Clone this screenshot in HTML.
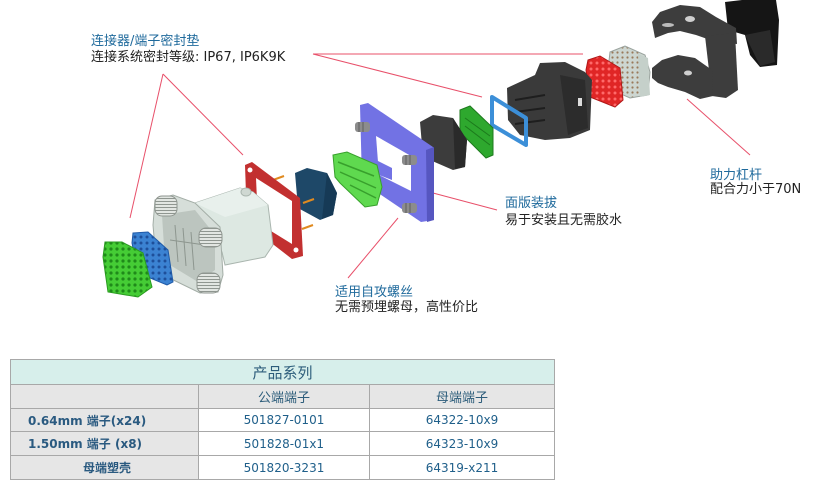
<!DOCTYPE html>
<html><head><meta charset="utf-8">
<style>
html,body{margin:0;padding:0;background:#fff;}
body{width:830px;height:484px;position:relative;overflow:hidden;font-family:"DejaVu Sans","Liberation Sans","Noto Sans CJK SC",sans-serif;}
.lb{position:absolute;font-size:13px;line-height:15px;white-space:nowrap;}
.b{color:#1f6a9c;}
.k{color:#222;}
.c{position:absolute;box-sizing:border-box;border-left:1px solid #a8a8a8;border-top:1px solid #a8a8a8;display:flex;align-items:center;justify-content:center;font-size:12px;color:#1f5f8a;white-space:nowrap;}
.g{background:#e6e6e6;}
.w{background:#fff;}
.bold{font-weight:bold;color:#2a5a80;}
</style></head><body>
<svg width="830" height="484" style="position:absolute;left:0;top:0" xmlns="http://www.w3.org/2000/svg">
<defs>
<pattern id="dotsG" width="6" height="6" patternUnits="userSpaceOnUse"><rect width="6" height="6" fill="#45cc35"/><circle cx="3" cy="3" r="1.6" fill="#1f8a1a"/></pattern>
<pattern id="dotsB" width="6" height="6" patternUnits="userSpaceOnUse"><rect width="6" height="6" fill="#3b82d2"/><circle cx="3" cy="3" r="1.5" fill="#1e4f9a"/></pattern>
<pattern id="dotsR" width="6" height="6" patternUnits="userSpaceOnUse"><rect width="6" height="6" fill="#e02626"/><circle cx="3" cy="3" r="1.5" fill="#ff6a6a"/></pattern>
<pattern id="dotsW" width="5" height="5" patternUnits="userSpaceOnUse"><rect width="5" height="5" fill="#cdd6d1"/><circle cx="2.5" cy="2.5" r="1.1" fill="#9a7a5a"/></pattern>
<pattern id="rib" width="3" height="3" patternUnits="userSpaceOnUse"><rect width="3" height="3" fill="#e2e6e2"/><rect width="3" height="1" fill="#8f9690"/></pattern>
</defs>

<!-- red leader lines -->
<g stroke="#e8506a" stroke-width="1" fill="none">
<line x1="163" y1="74" x2="130" y2="218"/>
<line x1="163" y1="74" x2="243" y2="155"/>
<line x1="313" y1="54" x2="583" y2="54"/>
<line x1="313" y1="54" x2="482" y2="97"/>
<line x1="433" y1="193" x2="497" y2="210"/>
<line x1="398" y1="218" x2="348" y2="278"/>
<line x1="687" y1="99" x2="750" y2="155"/>
</g>

<!-- black handle top right -->
<polygon points="725,2,742,0,776,0,779,20,777,65,760,67,750,55,745,35,728,30" fill="#151515"/>
<polygon points="745,35,770,30,775,62,760,66" fill="#2a2a2a"/>

<!-- lever -->
<g fill="#3d3d3d">
<polygon points="652,22,660,12,680,5,700,7,716,17,736,28,737,44,716,42,696,35,680,31,668,33,655,38"/>
<polygon points="705,36,735,33,738,90,726,98,712,96"/>
<polygon points="652,68,662,60,678,55,695,58,712,70,713,96,700,99,685,92,668,87,658,83,652,78"/>
</g>
<ellipse cx="690" cy="19" rx="5" ry="3" fill="#cfcfcf"/>
<ellipse cx="668" cy="25" rx="6" ry="2" fill="#bbb"/>
<ellipse cx="688" cy="73" rx="4" ry="2.5" fill="#cfcfcf"/>

<!-- light gray block -->
<polygon points="610,52,625,46,645,55,650,72,648,95,630,98,612,90,608,70" fill="url(#dotsW)" stroke="#9aa39e" stroke-width="1"/>
<polygon points="638,54,648,58,650,95,640,97" fill="#c5d0ca"/>

<!-- red block -->
<polygon points="588,60,600,56,620,68,623,100,615,107,590,97,586,70" fill="url(#dotsR)" stroke="#b01818" stroke-width="1"/>

<!-- black big block -->
<polygon points="507,88,535,75,540,63,565,62,585,72,592,80,590,130,570,138,545,140,520,135,508,120" fill="#3a3a3a"/>
<polygon points="560,75,585,80,588,128,568,135" fill="#2c2c2c"/>
<g stroke="#1e1e1e" stroke-width="2"><line x1="515" y1="100" x2="545" y2="95"/><line x1="515" y1="112" x2="545" y2="108"/><line x1="515" y1="124" x2="545" y2="120"/></g>
<rect x="578" y="98" width="4" height="8" fill="#ddd"/>

<!-- blue frame -->
<polygon points="492,97,526,118,526,145,492,125" fill="none" stroke="#3c8fd8" stroke-width="4" stroke-linejoin="round"/>

<!-- green strip -->
<polygon points="460,110,470,106,493,128,493,155,486,158,460,132" fill="#2ea82e" stroke="#1e7a1e" stroke-width="1"/>
<g stroke="#1c7a1c" stroke-width="1"><line x1="465" y1="118" x2="490" y2="136"/><line x1="465" y1="126" x2="490" y2="145"/></g>

<!-- black small block -->
<polygon points="420,122,433,115,453,118,467,140,465,167,453,170,423,157" fill="#3c3c3c"/>
<polygon points="453,118,467,140,465,167,455,169" fill="#2a2a2a"/>

<!-- purple plate -->
<polygon points="360,105,368,103,433,147,434,220,421,222,362,182" fill="#7272e4"/>
<polygon points="426,150,434,147,434,220,427,222" fill="#5656c0"/>
<polygon points="376,136,411,156,411,191,379,175" fill="#fff"/>
<polygon points="376,160,392,168,392,180,379,175" fill="#7272e4"/>
<!-- screws -->
<g fill="#8c8c8c"><rect x="355" y="122" width="15" height="10" rx="3"/><rect x="402" y="155" width="15" height="10" rx="3"/><rect x="402" y="203" width="15" height="10" rx="3"/></g>
<g stroke="#5e5e5e" stroke-width="1"><line x1="359" y1="122" x2="359" y2="132"/><line x1="363" y1="122" x2="363" y2="132"/><line x1="406" y1="155" x2="406" y2="165"/><line x1="410" y1="155" x2="410" y2="165"/><line x1="406" y1="203" x2="406" y2="213"/><line x1="410" y1="203" x2="410" y2="213"/></g>

<!-- light green carrier -->
<polygon points="333,155,347,152,377,165,382,187,377,205,365,207,340,183,335,177" fill="#5fd94f" stroke="#38a02c" stroke-width="1"/>
<g stroke="#38a02c" stroke-width="1.5"><line x1="338" y1="162" x2="374" y2="176"/><line x1="340" y1="172" x2="376" y2="188"/><line x1="350" y1="185" x2="376" y2="198"/></g>

<!-- navy block -->
<polygon points="295,173,307,168,327,173,337,193,333,215,320,220,298,208" fill="#1e4868"/>
<polygon points="327,173,337,193,333,215,322,219" fill="#163a56"/>
<!-- orange pins -->
<g stroke="#e08a20" stroke-width="2"><line x1="273" y1="180" x2="284" y2="176"/><line x1="270" y1="210" x2="281" y2="205"/><line x1="303" y1="203" x2="314" y2="199"/><line x1="302" y1="229" x2="313" y2="225"/></g>

<!-- red gasket -->
<polygon points="245,165,252,162,300,198,303,256,292,259,247,224" fill="#c23030"/>
<polygon points="256,178,292,201,292,244,258,223" fill="#fff"/>
<circle cx="250" cy="170" r="2.5" fill="#fff"/><circle cx="296" cy="250" r="2.5" fill="#fff"/>

<!-- housing body -->
<polygon points="195,203,240,188,253,192,268,205,273,245,265,257,225,265,222,252" fill="#dde8e2" stroke="#a9b5ae" stroke-width="1"/>
<polygon points="195,203,240,188,253,192,268,205,225,217" fill="#e8f0ec"/>
<ellipse cx="246" cy="192" rx="5" ry="4" fill="#cfd8d2" stroke="#a9b5ae"/>
<!-- flange -->
<polygon points="155,200,173,195,195,203,220,227,223,275,218,292,200,293,157,272,153,225" fill="#d6ded9" stroke="#a3ada6" stroke-width="1"/>
<polygon points="162,215,195,210,215,235,215,270,198,282,165,262" fill="#bcc5bf"/>
<g stroke="#8d968f" stroke-width="1"><line x1="175" y1="225" x2="178" y2="262"/><line x1="183" y1="228" x2="186" y2="266"/><line x1="191" y1="232" x2="194" y2="270"/><line x1="170" y1="240" x2="205" y2="245"/></g>
<!-- knobs -->
<g stroke="#8f9690" stroke-width="1">
<rect x="155" y="196" width="22" height="20" rx="7" fill="url(#rib)"/>
<rect x="199" y="228" width="23" height="19" rx="7" fill="url(#rib)"/>
<rect x="197" y="273" width="23" height="20" rx="7" fill="url(#rib)"/>
</g>

<!-- blue seal -->
<polygon points="133,233,148,232,168,250,173,282,167,285,138,273,132,243" fill="url(#dotsB)" stroke="#1f5aa8" stroke-width="1"/>
<!-- green seal -->
<polygon points="105,242,122,242,143,253,152,287,138,297,108,292,103,257" fill="url(#dotsG)" stroke="#2a9a20" stroke-width="1"/>
</svg>

<!-- labels -->
<div class="lb b" style="left:91px;top:34px;">连接器/端子密封垫</div>
<div class="lb k" style="left:91px;top:50px;">连接系统密封等级: IP67, IP6K9K</div>
<div class="lb b" style="left:505px;top:196px;">面版装拔</div>
<div class="lb k" style="left:505px;top:213px;">易于安装且无需胶水</div>
<div class="lb b" style="left:710px;top:168px;">助力杠杆</div>
<div class="lb k" style="left:710px;top:182px;">配合力小于70N</div>
<div class="lb b" style="left:335px;top:285px;">适用自攻螺丝</div>
<div class="lb k" style="left:335px;top:300px;">无需预埋螺母，高性价比</div>

<!-- table -->
<div class="c" style="left:10px;top:359px;width:545px;height:25px;background:#d7efeb;font-size:15px;color:#2d5d7b;border-right:1px solid #a8a8a8;">产品系列</div>
<div class="c g" style="left:10px;top:384px;width:188px;height:24px;"></div>
<div class="c g" style="left:198px;top:384px;width:171px;height:24px;font-size:13px;color:#2d5d7b;">公端端子</div>
<div class="c g" style="left:369px;top:384px;width:186px;height:24px;font-size:13px;color:#2d5d7b;border-right:1px solid #a8a8a8;">母端端子</div>

<div class="c g bold" style="left:10px;top:408px;width:188px;height:23px;justify-content:flex-start;padding-left:17px;">0.64mm 端子(x24)</div>
<div class="c w" style="left:198px;top:408px;width:171px;height:23px;">501827-0101</div>
<div class="c w" style="left:369px;top:408px;width:186px;height:23px;border-right:1px solid #a8a8a8;">64322-10x9</div>

<div class="c g bold" style="left:10px;top:431px;width:188px;height:24px;justify-content:flex-start;padding-left:17px;">1.50mm 端子 (x8)</div>
<div class="c w" style="left:198px;top:431px;width:171px;height:24px;">501828-01x1</div>
<div class="c w" style="left:369px;top:431px;width:186px;height:24px;border-right:1px solid #a8a8a8;">64323-10x9</div>

<div class="c g bold" style="left:10px;top:455px;width:188px;height:25px;justify-content:flex-start;padding-left:72px;border-bottom:1px solid #a8a8a8;">母端塑壳</div>
<div class="c w" style="left:198px;top:455px;width:171px;height:25px;border-bottom:1px solid #a8a8a8;">501820-3231</div>
<div class="c w" style="left:369px;top:455px;width:186px;height:25px;border-right:1px solid #a8a8a8;border-bottom:1px solid #a8a8a8;">64319-x211</div>
</body></html>
